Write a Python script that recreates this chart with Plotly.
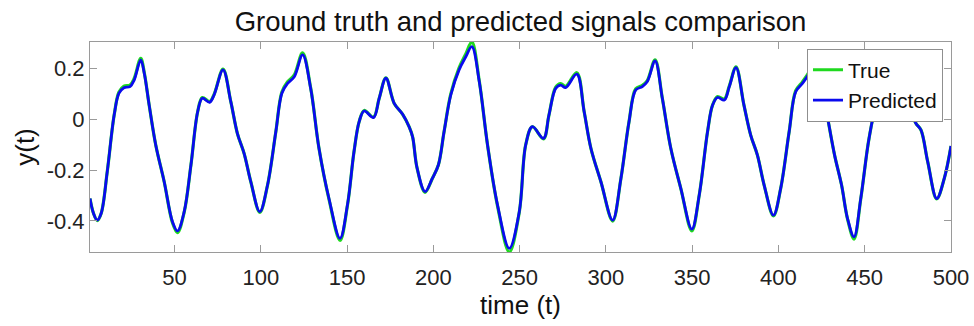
import plotly.graph_objects as go

# ---- data ----
t_pts = [1, 3, 5.2, 7.5, 11, 15, 17.8, 20.7, 24.2, 26.6, 30.4, 32.5, 35.3, 39.1, 44, 48.8,
         51.7, 55.6, 59.5, 63.4, 66.1, 70.3, 72.9, 78.1, 82.6, 86.4, 90.3, 94.2, 99.4,
         103.9, 108.7, 112.2, 115.5, 119.4, 124.2, 128.9, 133.7, 139.5, 145.9, 150.2, 154,
         157, 159.9, 165.3, 168.6, 172.5, 177.3, 182.2, 186, 188, 190.5, 195.2, 199.4,
         202.9, 206.2, 210.1, 214.9, 218.8, 222.3, 226.6, 231.4, 237.2, 244, 249.8, 253.5,
         257.4, 263.8, 267, 270.9, 273.8, 276.7, 283.1, 287.4, 291.3, 297.1, 303.9, 308.7,
         313.4, 317.3, 321.1, 324, 328.5, 332.7, 337.6, 343.4, 349.8, 354.1, 358.9, 361.8,
         364.7, 368.6, 371.5, 375.4, 380, 383.9, 387.8, 391.7, 397.1, 401.3, 406.2, 410,
         413.9, 417.8, 421, 424, 427.5, 432.5, 436.6, 440, 443.8, 447.7, 452.5, 456.4, 459,
         462.6, 466, 470, 474, 475.8, 479.7, 482.6, 486.5, 491.7, 496.1, 500]

y_pred = [-0.312, -0.37, -0.397, -0.37, -0.206, 0.017, 0.103, 0.125, 0.129, 0.155, 0.234, 0.18,
          0.056, -0.101, -0.246, -0.404, -0.44, -0.364, -0.18, 0.03, 0.083, 0.067, 0.096,
          0.195, 0.07, -0.055, -0.134, -0.246, -0.364, -0.259, -0.049, 0.103, 0.142, 0.168,
          0.254, 0.122, -0.114, -0.312, -0.469, -0.338, -0.128, -0.009, 0.033, 0.007, 0.083,
          0.162, 0.063, 0.02, -0.03, -0.07, -0.19, -0.285, -0.233, -0.18, -0.049, 0.096,
          0.195, 0.247, 0.287, 0.149, -0.101, -0.338, -0.509, -0.364, -0.101, -0.029, -0.075,
          0.017, 0.122, 0.135, 0.125, 0.178, 0.03, -0.114, -0.246, -0.397, -0.233, -0.009,
          0.116, 0.129, 0.149, 0.23, 0.083, -0.114, -0.272, -0.433, -0.298, -0.049, 0.056,
          0.086, 0.076, 0.129, 0.204, 0.056, -0.062, -0.141, -0.259, -0.378, -0.272, -0.049,
          0.109, 0.142, 0.181, 0.24, 0.16, 0.043, -0.14, -0.26, -0.39, -0.463, -0.312, -0.075,
          0.043, 0.065, 0.028, 0.07, 0.09, 0.07, 0.043, -0.016, -0.042, -0.167, -0.312,
          -0.233, -0.105]

y_true = [-0.312, -0.37, -0.399, -0.37, -0.206, 0.017, 0.108, 0.131, 0.135, 0.161, 0.241, 0.183,
          0.056, -0.101, -0.246, -0.408, -0.447, -0.366, -0.18, 0.03, 0.086, 0.07, 0.098,
          0.198, 0.07, -0.055, -0.134, -0.246, -0.367, -0.259, -0.049, 0.108, 0.148, 0.175,
          0.262, 0.124, -0.114, -0.315, -0.477, -0.34, -0.128, -0.009, 0.035, 0.009, 0.083,
          0.164, 0.063, 0.02, -0.03, -0.07, -0.19, -0.288, -0.233, -0.18, -0.049, 0.1,
          0.203, 0.258, 0.305, 0.152, -0.101, -0.342, -0.523, -0.366, -0.101, -0.029, -0.077,
          0.017, 0.127, 0.141, 0.13, 0.184, 0.03, -0.114, -0.246, -0.401, -0.233, -0.009,
          0.121, 0.134, 0.153, 0.235, 0.083, -0.114, -0.272, -0.44, -0.298, -0.049, 0.056,
          0.09, 0.08, 0.131, 0.207, 0.056, -0.062, -0.141, -0.259, -0.381, -0.272, -0.049,
          0.113, 0.148, 0.188, 0.247, 0.162, 0.043, -0.14, -0.26, -0.392, -0.472, -0.314, -0.075,
          0.043, 0.068, 0.024, 0.07, 0.093, 0.07, 0.043, -0.016, -0.042, -0.167, -0.314,
          -0.233, -0.105]

x_tickvals = [50, 100, 150, 200, 250, 300, 350, 400, 450, 500]
y_tickvals = [-0.4, -0.2, 0, 0.2]
y_ticktext = ["-0.4", "-0.2", "0", "0.2"]

FONT = "Liberation Sans, Arial, Helvetica, sans-serif"
AX = "#9a9a9a"

fig = go.Figure()
fig.add_trace(go.Scatter(x=t_pts, y=y_true, mode="lines", name="True",
                         line=dict(color="#1fd91f", width=3.2, shape="spline", smoothing=1.0)))
fig.add_trace(go.Scatter(x=t_pts, y=y_pred, mode="lines", name="Predicted",
                         line=dict(color="#0a0aee", width=2.8, shape="spline", smoothing=1.0)))

fig.update_layout(
    width=974, height=326,
    margin=dict(l=90, r=23, t=42, b=74, pad=0),
    paper_bgcolor="white", plot_bgcolor="white",
    font=dict(family=FONT, color="#222222"),
    title=dict(text="Ground truth and predicted signals comparison",
               x=0.5344, xanchor="center", xref="container",
               y=0.935, yanchor="middle", yref="container",
               font=dict(size=27.5, color="#111111", family=FONT)),
    showlegend=True,
    legend=dict(x=0.9907, xanchor="right", y=0.9686, yanchor="top",
                bgcolor="white", bordercolor="#8f8f8f", borderwidth=1,
                font=dict(size=21, color="#111111", family=FONT),
                tracegroupgap=0, itemwidth=30),
    xaxis=dict(range=[1, 500], tickvals=x_tickvals, ticks="inside", ticklen=7,
               tickcolor=AX, showline=True, linecolor=AX, linewidth=1, mirror="ticks",
               showgrid=False, zeroline=False, automargin=False, ticklabelstandoff=6,
               tickfont=dict(size=22, color="#222222", family=FONT),
               title=dict(text="time (t)", font=dict(size=26, color="#111111", family=FONT),
                          standoff=4)),
    yaxis=dict(range=[-0.523, 0.305], tickvals=y_tickvals, ticktext=y_ticktext,
               ticks="inside", ticklen=7, tickcolor=AX, showline=True, linecolor=AX,
               linewidth=1, mirror="ticks", showgrid=False, zeroline=False, automargin=False,
               tickfont=dict(size=22, color="#222222", family=FONT),
               title=dict(text="y(t)", font=dict(size=26, color="#111111", family=FONT),
                          standoff=4)),
)

fig.write_html("out.html")
